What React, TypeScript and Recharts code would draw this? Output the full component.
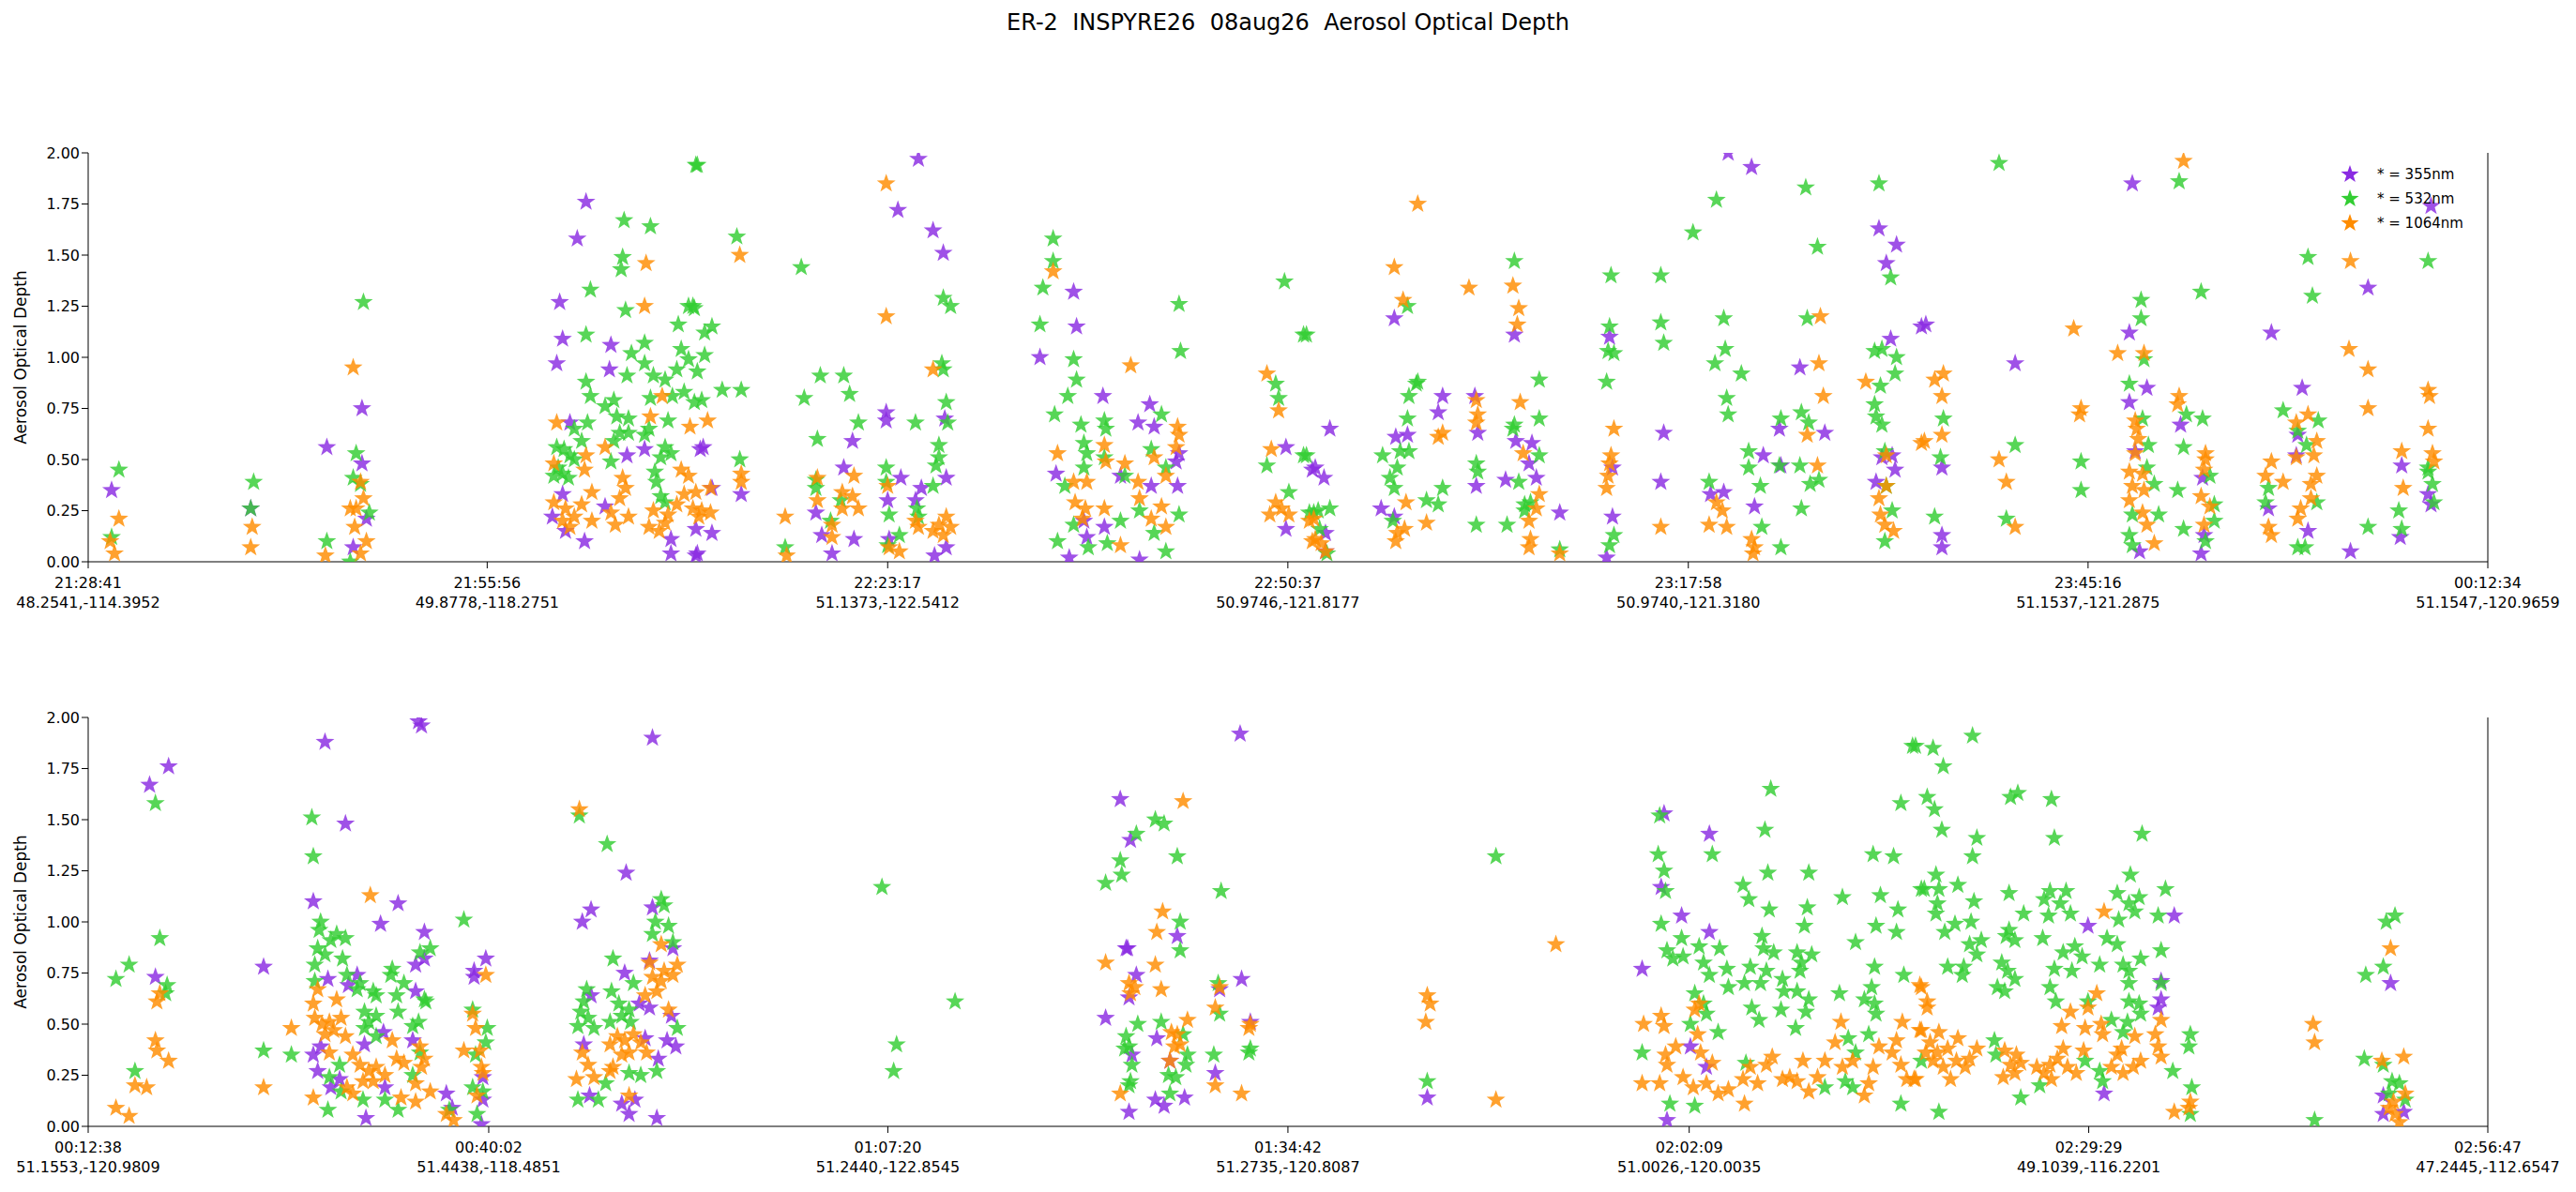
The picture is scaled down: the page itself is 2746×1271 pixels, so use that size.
import { ScatterChart, Scatter, XAxis, YAxis } from 'recharts';

type Pt = [number, number];

// x = minutes since the first tick of the panel, y = aerosol optical depth
const top355: Pt[] = [
  [1.6,0.35],[11.1,0.26],[16.3,0.56],[18.7,0.75],[18.7,0.48],[19,0.21],[18.1,0.07],[32.2,1.27],[33.4,1.58],[34,1.76],[32.4,1.09],[32,0.97],[35.7,1.06],[35.6,0.94],[32.9,0.68],[36.8,0.52],[38,0.55],[32.4,0.33],[31.7,0.22],[32.6,0.15],[33.9,0.1],[35.3,0.27],[39.8,0.11],[39.8,0.04],[41.5,0.16],[41.5,0.03],[41.8,0.55],
  [56.7,1.97],[55.3,1.72],[57.7,1.62],[58.4,1.51],[54.5,0.73],[54.5,0.69],[42,0.56],[52.2,0.59],[51.6,0.46],[44.6,0.33],[42.6,0.36],[42.6,0.14],[41.6,0.04],[49.7,0.24],[50.1,0.13],[50.8,0.04],[52.3,0.11],[54.6,0.3],[55.5,0.41],[56.9,0.36],[56.5,0.3],[58.6,0.41],[58.5,0.7],[57.8,0.03],[58.6,0.07],[54.7,0.11],[67.3,1.32],[67.5,1.15],[65,1.0],[69.3,0.81],[72.5,0.77],[71.7,0.68],[72.8,0.66],[66.1,0.43],[74.5,0.53],[74.3,0.49],[70.5,0.42],[72.6,0.37],[74.4,0.37],[68,0.2],[69.4,0.17],[68.2,0.12],[67,0.02],[71.8,0.01],[81.8,0.56],[81.8,0.16],[83.6,0.45],
  [84.8,0.65],[83.8,0.46],[84.4,0.41],[84.5,0.14],[84.5,0.05],[89.2,1.19],[89.3,0.61],[90.1,0.62],[92.5,0.81],[92.2,0.73],[94.7,0.81],[94.9,0.63],[94.8,0.37],[88.3,0.26],[89.2,0.22],[96.8,0.4],[97.5,0.59],[98.6,0.58],[98.4,0.48],[98.9,0.41],[97.4,1.11],[100.5,0.24],[103.9,1.1],[104.1,0.46],[104.1,0.22],[103.7,0.02],[107.4,0.39],[107.6,0.63],[110.8,0.33],[111.7,0.34],[112,2.0],[113.6,1.93],[113.8,0.27],[114.4,0.52],[115.5,0.65],[115.6,0.47],[116.9,0.95],[118.6,0.63],[122.3,1.63],[122.8,1.46],[123.5,1.55],[123.1,1.09],[123.2,0.52],[122.5,0.51],[123.4,0.45],[122.1,0.39],[125.2,1.15],
  [125.5,1.16],[131.6,0.97],[126.6,0.46],[126.6,0.13],[126.6,0.07],[139.6,1.85],[139.4,1.12],[140.6,0.85],[139.4,0.78],[139.8,0.54],[142.9,0.67],[140.1,0.05],[144.4,0.41],[144.5,0.13],[144.3,0.04],[149.1,1.12],[151.2,0.85],[150.9,0.62],[150.8,0.52],[148.9,0.26],[151.6,0.15],[155.7,1.34],[154.5,0.05],[158,0.47],[157.9,0.12],[159.8,0.33],[160,0.28],[160,1.74],
];
const top532: Pt[] = [
  [2.1,0.45],[1.6,0.12],[11.3,0.39],[11.1,0.26],[18.8,1.27],[18.3,0.53],[18.1,0.41],[18.6,0.38],[19.2,0.24],[16.3,0.1],[17.9,0.0],[41.5,1.94],[36.6,1.67],[38.4,1.64],[36.5,1.49],[36.4,1.43],[34.3,1.33],[36.7,1.23],[34,1.11],[38,1.07],[37.1,1.02],[38,0.97],[40.3,1.16],[41,1.25],[41.3,1.25],[40.5,1.04],[41,0.99],[34,0.88],[34.3,0.81],[36.8,0.91],[35.9,0.79],[35.3,0.76],[36.1,0.71],[36.9,0.7],[38.6,0.91],[39.4,0.89],[40.2,0.94],[39.9,0.81],[40.7,0.83],[41.4,0.78],[38.4,0.8],[39.6,0.69],[33.2,0.65],[34.1,0.68],[36.3,0.63],[36.9,0.63],[38.3,0.65],[38,0.62],[32,0.56],[32.5,0.55],[32.9,0.52],[33.2,0.5],[32.1,0.46],[32.4,0.43],[31.8,0.42],[32.8,0.41],[33.7,0.59],[35.9,0.59],[35.7,0.49],[39.4,0.56],[39.8,0.53],[39.1,0.51],[38.7,0.44],[38.8,0.39],[39.1,0.32],[39.4,0.29],
  [41.6,1.94],[44.3,1.59],[48.7,1.44],[41.4,1.24],[42.6,1.15],[42.1,1.12],[42.1,1.01],[41.6,0.93],[43.3,0.84],[44.6,0.84],[41.9,0.79],[50,0.91],[51.6,0.91],[52,0.82],[48.9,0.8],[52.6,0.68],[49.8,0.6],[44.5,0.5],[49.7,0.4],[49.7,0.36],[47.6,0.07],[50.7,0.2],[51.4,0.3],[54.5,0.46],[54.5,0.39],[54.7,0.23],[54.6,0.08],[55.4,0.13],[56.5,0.68],[58.4,1.29],[58.9,1.25],[58.3,0.97],[58.4,0.94],[58.6,0.78],[58.7,0.68],[58.1,0.57],[58.1,0.51],[57.9,0.47],[57.7,0.37],[56.6,0.26],[56.7,0.22],[65.9,1.58],[65.9,1.47],[65.2,1.34],[65,1.16],[67.3,0.99],[67.5,0.89],[66.9,0.81],[66,0.72],[67.8,0.67],[68,0.58],[68.2,0.53],[68,0.46],[66.7,0.37],[69.4,0.69],[69.5,0.65],[69.4,0.51],[70.8,0.42],[73.3,0.72],[72.6,0.55],[73.6,0.46],[74.5,1.26],[74.6,1.03],[71.8,0.25],[70.5,0.2],[72.8,0.14],[74.5,0.23],[73.6,0.05],[66.2,0.1],[68.3,0.07],[69.6,0.09],[67.3,0.18],[81.7,1.37],[83,1.11],[81.1,0.87],[81.3,0.8],[83,0.52],[80.5,0.47],[82,0.34],[83.4,0.24],
  [83.2,1.11],[83.2,0.52],[84,0.25],[84.8,0.26],[83.7,0.24],[84.1,0.16],[84.6,0.04],[88.4,0.52],[89.1,0.2],[89.4,0.46],[88.9,0.41],[89.2,0.36],[89.6,0.54],[90.2,0.54],[90.1,0.7],[90.2,0.81],[90.7,0.87],[90.8,0.88],[90.1,1.25],[92.5,0.36],[91.4,0.3],[92.2,0.28],[94.8,0.48],[94.9,0.44],[94.8,0.18],[97.4,1.47],[99.1,0.89],[99.1,0.7],[97.4,0.67],[97.3,0.65],[99.1,0.52],[96.9,0.18],[97.7,0.39],[98.1,0.28],[98.5,0.29],[98.1,0.25],[100.5,0.06],[104,1.4],[103.9,1.15],[103.8,1.03],[104.2,1.02],[103.7,0.88],[104.2,0.13],[103.9,0.08],[107.4,1.4],[107.4,1.17],[107.6,1.07],[111.2,1.77],[109.6,1.61],[111.7,1.19],[111.8,1.04],[111.1,0.97],[112.9,0.92],[111.9,0.8],[112,0.72],[110.7,0.39],[113.4,0.54],[113.4,0.46],[114.2,0.37],[114.3,0.17],[115.6,0.07],[115.6,0.7],[115.5,0.47],[116.9,0.47],[117,0.26],[117,0.73],[117.5,0.68],[117.3,1.83],[118.1,1.54],[117.4,1.19],[118.2,0.4],[117.6,0.38],[122.3,1.85],[123.1,1.39],[122,1.03],[122.5,1.04],[123.5,1.0],[123.4,0.92],[122.4,0.86],[122,0.77],[122.1,0.71],[122.5,0.67],[122.7,0.54],[122.8,0.37],[123.2,0.25],[122.7,0.1],
  [130.5,1.95],[142.8,1.86],[140.2,1.28],[140.2,1.19],[144.3,1.32],[151.6,1.49],[151.9,1.3],[159.8,1.47],[139.4,0.87],[140.3,0.7],[140.7,0.57],[140.4,0.99],[143.3,0.72],[144.4,0.7],[143.1,0.56],[140.6,0.46],[141.1,0.38],[142.7,0.35],[139.6,0.23],[141.4,0.23],[139.4,0.13],[139.6,0.08],[143.1,0.16],[144.9,0.42],[145.2,0.28],[145.2,0.2],[144.6,0.1],[126.7,0.7],[126.5,0.51],[126.1,0.22],[131.6,0.57],[131,0.21],[136.1,0.49],[136.1,0.35],[149.9,0.74],[150.9,0.64],[151.5,0.57],[152.3,0.69],[148.9,0.36],[148.7,0.29],[152.2,0.29],[150.9,0.07],[151.4,0.07],[155.7,0.17],[157.8,0.25],[158,0.16],[159.8,0.44],[160.1,0.38],[160.2,0.29],[159.8,0.46],
];
const top1064: Pt[] = [
  [2.1,0.21],[1.5,0.1],[1.8,0.04],[11.2,0.17],[11.1,0.07],[18.1,0.95],[18.6,0.39],[18.8,0.31],[18.3,0.26],[17.9,0.26],[18.2,0.17],[19,0.1],[18.6,0.04],[16.2,0.03],[38.1,1.46],[38,1.25],[32,0.68],[39.2,0.81],[38.4,0.71],[41.1,0.66],[35.3,0.56],[34,0.52],[31.8,0.48],[33.9,0.45],[40.5,0.45],[41,0.42],[36.5,0.41],[36.7,0.36],[36.3,0.31],[31.8,0.29],[32.6,0.26],[33.2,0.22],[32.4,0.2],[32.9,0.17],[33.7,0.28],[34.4,0.34],[34.4,0.2],[35.7,0.24],[36,0.18],[36.9,0.22],[38.6,0.25],[38.3,0.17],[39,0.15],[39.4,0.19],[40.2,0.28],[40.7,0.33],[41.3,0.26],[41.7,0.22],[39.6,0.23],
  [54.5,1.85],[44.5,1.5],[54.5,1.2],[57.7,0.94],[42.3,0.69],[44.6,0.43],[44.6,0.39],[42.5,0.36],[41.5,0.34],[41.9,0.25],[42.5,0.24],[47.6,0.22],[49.8,0.41],[49.8,0.3],[50.8,0.18],[50.8,0.12],[51.5,0.34],[52.2,0.32],[52.3,0.42],[52.6,0.26],[51.5,0.26],[54.6,0.37],[47.7,0.03],[55.4,0.05],[54.7,0.07],[56.7,0.17],[56.5,0.2],[57.7,0.15],[58.1,0.18],[58.6,0.22],[58.9,0.17],[58.4,0.13],[65.9,1.42],[66.2,0.53],[67.3,0.39],[68.2,0.39],[67.4,0.29],[68.1,0.26],[67.9,0.21],[69.4,0.57],[69.5,0.49],[69.4,0.26],[70.8,0.48],[71.7,0.39],[71.8,0.31],[71.2,0.96],[72.8,0.51],[73.6,0.42],[73.3,0.27],[72.6,0.21],[73.6,0.17],[70.5,0.08],[74.4,0.66],[74.5,0.62],[74.3,0.56],[80.5,0.92],[81.3,0.74],[80.8,0.55],[81.1,0.29],[81.5,0.26],[80.7,0.23],[82,0.23],[83.4,0.2],[83.6,0.1],
  [83.7,0.21],[83.8,0.11],[84.5,0.05],[84.2,0.09],[90.8,1.75],[89.2,1.44],[89.8,1.28],[90,0.29],[89.4,0.14],[89.9,0.16],[89.3,0.1],[91.4,0.19],[92.5,0.63],[92.2,0.61],[94.3,1.34],[94.8,0.79],[94.9,0.72],[94.8,0.68],[97.3,1.35],[97.7,1.24],[97.6,1.16],[97.8,0.78],[98,0.53],[99.1,0.33],[98.9,0.26],[98.4,0.2],[98.5,0.11],[98.4,0.07],[100.5,0.04],[104.2,0.65],[104,0.52],[103.9,0.48],[103.8,0.42],[103.7,0.36],[107.4,0.17],[111.2,0.29],[111.6,0.25],[110.7,0.18],[111.9,0.17],[113.6,0.11],[113.8,0.07],[113.7,0.04],[118.3,1.2],[118.2,0.97],[118.5,0.81],[117.4,0.62],[118.1,0.47],[121.4,0.88],[122.8,0.52],[122.8,0.37],[122.3,0.31],[122.4,0.23],[122.7,0.18],[123.3,0.15],[125.2,0.58],
  [143.1,1.96],[154.5,1.47],[126.7,0.92],[126.1,0.89],[126.6,0.81],[126.6,0.62],[125.4,0.59],[130.5,0.5],[131,0.39],[131.6,0.17],[135.6,1.14],[136.1,0.75],[136,0.72],[138.6,1.02],[140.4,1.02],[139.8,0.69],[139.9,0.65],[140,0.6],[139.8,0.53],[139.4,0.44],[140.3,0.43],[139.6,0.37],[140.4,0.35],[139.4,0.3],[140.3,0.24],[140.6,0.18],[141.1,0.09],[142.8,0.81],[142.7,0.77],[144.6,0.53],[144.6,0.5],[144.5,0.45],[144.3,0.32],[144.9,0.27],[144.5,0.18],[154.4,1.04],[155.7,0.94],[155.7,0.75],[159.8,0.84],[159.9,0.81],[159.8,0.65],[160.1,0.53],[160.2,0.49],[158,0.54],[158.1,0.36],[149.1,0.49],[149.9,0.39],[148.7,0.42],[148.9,0.17],[149.1,0.13],[150.8,0.68],[151.6,0.72],[152.2,0.59],[152,0.52],[152.2,0.42],[151.8,0.38],[151.8,0.31],[151.1,0.26],[150.9,0.21],[150.8,0.51],
];

const bot355: Pt[] = [
  [4.2,1.67],[5.5,1.76],[4.6,0.73],[12,0.78],[16.2,1.88],[15.4,1.1],[17.6,1.48],[22.6,1.98],[22.8,1.96],[21.2,1.09],[20,0.99],[23,0.95],[16.4,0.72],[18.4,0.74],[17.8,0.69],[22.4,0.79],[23,0.82],[22.4,0.66],[27.2,0.82],[26.4,0.76],[26.4,0.73],[15.4,0.35],[15.7,0.27],[15.9,0.39],[17.2,0.23],[16.6,0.19],[20.2,0.46],[18.9,0.4],[22.2,0.42],[20.3,0.19],[19,0.04],[24.5,0.16],[24.9,0.09],[27,0.24],[26.9,0.01],[27,0.13],[33.8,1.0],[34.4,1.06],[36.8,1.24],[38.6,1.9],[38.6,1.07],[36.7,0.75],[38.4,0.81],[37.7,0.6],[38.4,0.58],[40,0.87],[39.9,0.54],[39.6,0.42],[40.2,0.39],[34.4,0.64],[33.9,0.4],[34.3,0.15],[36.5,0.11],[37,0.06],[37.4,0.13],[38.9,0.04],[39,0.33],[38.1,0.43],
  [78.8,1.92],[70.6,1.6],[71.3,1.4],[74.5,0.93],[71,0.87],[71.1,0.87],[71.7,0.74],[71.2,0.63],[78.9,0.72],[77.4,0.67],[69.6,0.53],[73.1,0.43],[71.4,0.35],[79.5,0.51],[77.1,0.26],[74,0.32],[73,0.13],[73.6,0.1],[75,0.14],[71.2,0.07],
  [91.6,0.14],[107.8,1.53],[107.6,1.17],[109,1.03],[110.9,1.43],[110.9,0.95],[106.3,0.77],[109.6,0.39],[110.7,0.29],[108,0.03],
  [136.8,0.98],[142.7,1.03],[141.8,0.71],[141.8,0.62],[141.6,0.58],[137.9,0.16],[157.5,0.7],[157,0.15],[157,0.06],[158.4,0.07],
];
const bot532: Pt[] = [
  [1.9,0.72],[2.8,0.79],[4.6,1.58],[4.9,0.92],[5.4,0.69],[5.3,0.65],[3.2,0.27],[12,0.37],[13.9,0.35],[15.3,1.51],[15.4,1.32],[15.9,1.0],[15.8,0.96],[15.7,0.87],[15.5,0.79],[15.5,0.71],[16.2,0.84],[16.6,0.91],[17,0.94],[17.6,0.92],[17.4,0.82],[17.7,0.74],[18.4,0.67],[18.6,0.7],[19.5,0.66],[19.7,0.64],[18.9,0.56],[19.2,0.51],[19.7,0.54],[20.8,0.77],[20.7,0.74],[21.6,0.7],[21.1,0.64],[21.2,0.56],[22.2,0.49],[22.6,0.51],[22.7,0.85],[23.4,0.87],[23,0.62],[23.1,0.61],[18.9,0.48],[19.7,0.44],[16.5,0.24],[17.2,0.3],[17.3,0.17],[18.8,0.13],[20.3,0.13],[21.2,0.08],[16.4,0.08],[22.7,0.36],[22.2,0.25],[24.7,0.08],[25.7,1.01],[26.3,0.57],[27.3,0.48],[27.2,0.41],[26.5,0.35],[26.3,0.19],[27,0.17],[26.6,0.06],[33.6,1.52],[35.5,1.38],[35.9,0.82],[34.1,0.67],[33.9,0.61],[33.7,0.56],[34.2,0.53],[33.5,0.49],[34.6,0.48],[35.8,0.66],[36.3,0.6],[36.5,0.54],[37,0.57],[37.3,0.7],[35.7,0.51],[37.1,0.51],[39.2,1.11],[39.4,1.08],[38.8,1.0],[39.7,0.98],[38.6,0.94],[40,0.9],[40.3,0.48],[33.5,0.13],[34.9,0.13],[35.4,0.21],[37,0.26],[37.8,0.25],[38.9,0.27],
  [54.3,1.17],[55.3,0.4],[55.1,0.27],[59.3,0.61],[70.6,1.3],[70.7,1.23],[69.6,1.19],[71.7,1.43],[73,1.5],[73.6,1.48],[74.5,1.32],[77.5,1.15],[74.7,1.0],[74.7,0.86],[77.3,0.7],[77.4,0.55],[71.8,0.5],[73.4,0.51],[74.9,0.45],[71,0.44],[71.2,0.39],[70.9,0.38],[71.4,0.3],[71.3,0.22],[71.2,0.2],[73.9,0.25],[74.4,0.24],[75.2,0.35],[75.1,0.3],[77,0.35],[74,0.16],[79.5,0.38],[79.4,0.36],
  [96.3,1.32],[91.6,0.22],[107.5,1.52],[107.4,1.33],[107.8,1.25],[107.9,1.15],[107.6,0.99],[109,0.92],[108,0.86],[108.4,0.82],[109.1,0.83],[110.2,0.88],[111.6,0.87],[110.5,0.8],[110.9,0.74],[112.1,0.77],[112.2,0.68],[109.9,0.65],[110.5,0.6],[110.7,0.55],[109.6,0.5],[111.5,0.46],[111.1,1.33],[106.3,0.36],[108.2,0.11],[109.9,0.1],[115.1,1.65],[114.7,1.45],[114.9,1.24],[113.2,1.18],[113.6,1.11],[115,1.06],[114.5,0.93],[114.6,0.87],[115.3,0.85],[113.7,0.78],[114.8,0.76],[113.3,0.7],[114.4,0.7],[115.9,0.72],[116,0.66],[113.8,0.58],[114.3,0.52],[115.8,0.57],[116.8,0.48],[116.9,0.85],[117.9,0.84],[117.2,0.8],[117.1,0.76],[116.9,0.66],[117.7,0.62],[117.5,0.56],[117.7,1.24],[117.6,1.07],[117.4,0.98],[120,1.12],[120.9,0.9],[122.1,1.33],[123.5,1.32],[124,1.58],[124.8,1.86],[122.6,1.13],[123.8,1.06],[122.3,0.98],[123.7,0.95],[122.2,0.78],[124.2,0.74],[122,0.68],[121.5,0.62],[122.2,0.6],[122.3,0.55],[119.8,0.65],[120.4,0.43],[120.9,0.36],[121.8,0.45],[125.4,1.16],[124,0.11],[113.4,0.31],[118.8,0.19],[120.2,0.22],[120.7,0.19],
  [125,1.86],[126.2,1.85],[128.9,1.91],[126.9,1.76],[125.8,1.61],[126.3,1.55],[126.8,1.45],[129.2,1.41],[128.9,1.32],[131.5,1.61],[132,1.63],[134.3,1.6],[134.5,1.41],[140.5,1.43],[126.4,1.23],[125.6,1.16],[126.6,1.16],[127.9,1.18],[126.5,1.09],[126.4,1.04],[129,1.1],[131.4,1.14],[127,0.95],[127.7,0.99],[128.8,1.0],[129.5,0.91],[128.7,0.89],[129.2,0.84],[127.2,0.78],[128.3,0.78],[128.2,0.74],[131.4,0.96],[131.2,0.93],[131.8,0.91],[132.4,1.04],[130.9,0.8],[131.3,0.76],[131.8,0.72],[130.6,0.68],[131.1,0.66],[133.8,1.11],[134.2,1.15],[135.3,1.15],[134.1,1.03],[134.9,1.09],[135.6,1.04],[133.7,0.92],[135.1,0.85],[135.9,0.88],[136.4,0.83],[134.5,0.77],[135.7,0.76],[134.2,0.68],[134.6,0.61],[137.6,0.79],[138.1,0.92],[138.8,0.89],[138.8,1.14],[139.7,1.23],[139.6,1.09],[140.3,1.12],[140,1.05],[138.9,1.01],[141.6,1.03],[142.1,1.16],[141.8,0.86],[140.4,0.82],[139.2,0.79],[139.6,0.76],[139.6,0.7],[139.6,0.61],[140.3,0.6],[140.4,0.55],[138.4,0.52],[139.5,0.51],[139.2,0.46],[136.8,0.61],[143.8,0.45],[143.7,0.39],[143.9,0.19],[143.8,0.06],[142.6,0.27],[130.4,0.42],[130.5,0.35],[132.2,0.14],[133.5,0.2],[125.4,0.32],[126.6,0.07],[136.6,0.32],[137.6,0.27],[137.8,0.22],[141.8,0.7],[152.3,0.03],[157.2,1.0],[157.8,1.03],[157,0.78],[155.8,0.74],[155.7,0.33],[157,0.3],[157.6,0.22],[158.1,0.21],[158.5,0.13],[157.4,0.16],
];
const bot1064: Pt[] = [
  [1.9,0.09],[2.8,0.05],[3.2,0.2],[4,0.19],[4.6,0.42],[4.7,0.37],[5.5,0.32],[4.7,0.61],[4.9,0.65],[12,0.19],[13.9,0.48],[15.4,0.14],[19.3,1.13],[15.7,0.67],[15.4,0.6],[17,0.62],[15.5,0.53],[16,0.5],[16.5,0.51],[17.3,0.53],[16.8,0.47],[16.2,0.45],[17.6,0.44],[16.5,0.36],[18.1,0.35],[18.6,0.3],[19.2,0.27],[19.7,0.29],[20.3,0.25],[18.8,0.22],[19.5,0.22],[17.7,0.19],[18.1,0.16],[20.8,0.42],[21.1,0.33],[21.6,0.31],[21.4,0.14],[22.4,0.21],[22.4,0.12],[23,0.33],[22.8,0.29],[23.4,0.17],[22.7,0.39],[24.5,0.06],[25,0.03],[25.7,0.37],[26.3,0.55],[26.5,0.48],[27.2,0.74],[26.8,0.37],[26.9,0.29],[27,0.26],[26.6,0.15],[33.6,1.55],[33.4,0.23],[33.8,0.36],[34.2,0.3],[34.6,0.24],[35.7,0.4],[36.2,0.44],[36.7,0.42],[37.3,0.45],[37.8,0.41],[36.5,0.35],[37,0.36],[35.9,0.29],[35.7,0.27],[37,0.15],[38.2,0.36],[38.1,0.64],[38.6,0.73],[39.2,0.71],[38.4,0.8],[39.4,0.76],[40,0.74],[40.3,0.79],[39.2,0.89],[38.9,0.66],[39.7,0.57],
  [74.9,1.59],[73.5,1.05],[73.1,0.95],[69.6,0.8],[73,0.79],[71.2,0.7],[71.6,0.68],[71.3,0.65],[73.4,0.67],[77.4,0.68],[77.1,0.58],[75.2,0.52],[74.1,0.46],[74.5,0.45],[74.3,0.39],[74.7,0.4],[74,0.32],[79.4,0.48],[79.5,0.5],[70.6,0.16],[77.1,0.2],[78.9,0.16],
  [91.6,0.64],[91.8,0.6],[91.5,0.51],[96.3,0.13],[100.4,0.89],[106.4,0.5],[107.6,0.54],[107.8,0.49],[106.3,0.21],[107.5,0.21],[107.9,0.35],[108,0.3],[108.6,0.39],[109.9,0.57],[110.2,0.6],[110.1,0.45],[110.3,0.36],[109.1,0.24],[109.8,0.19],[110.7,0.21],[111.1,0.31],[111.5,0.16],[112.2,0.18],[113.3,0.11],[113.2,0.23],[113.7,0.29],[114.2,0.21],[114.8,0.3],[115.2,0.34],[115.9,0.23],[116.9,0.22],[117.3,0.32],[117.7,0.17],[118.3,0.24],[118.8,0.32],[119.5,0.41],[119.9,0.51],[120,0.29],[120.7,0.32],[121.5,0.15],[121.8,0.21],[122.1,0.29],[122.5,0.39],[123.4,0.36],[123.7,0.42],[124.1,0.51],[124,0.3],[124.4,0.23],[124.9,0.23],[125.3,0.69],[125.3,0.47],[116.4,0.24],
  [125.4,0.68],[125.8,0.61],[125.8,0.58],[125.4,0.47],[126.6,0.46],[127.9,0.43],[126,0.41],[125.7,0.36],[126.5,0.36],[127.2,0.38],[126.2,0.32],[126.9,0.29],[127.4,0.23],[127.8,0.32],[128.7,0.33],[129.2,0.38],[128.4,0.29],[125,0.23],[131.1,0.37],[131.9,0.35],[131.5,0.3],[132.2,0.31],[131,0.24],[131.8,0.26],[133.3,0.29],[133.8,0.26],[134.2,0.3],[134.7,0.33],[135.1,0.38],[135.4,0.29],[136,0.26],[134.3,0.23],[135,0.49],[135.6,0.56],[136.6,0.48],[136.8,0.58],[137.4,0.65],[137.9,1.05],[137.7,0.5],[137.8,0.45],[136.5,0.37],[138.8,0.35],[139.1,0.38],[138.4,0.29],[139.2,0.26],[139.9,0.29],[140.4,0.32],[140,0.44],[141.4,0.45],[141.6,0.39],[141.8,0.34],[141.8,0.52],[142.7,0.07],[143.8,0.12],[143.7,0.09],[152.2,0.5],[152.3,0.41],[156.9,0.32],[158.4,0.34],[157.5,0.87],[158.5,0.16],[157.4,0.09],[157.8,0.06],[158.1,0.02],[157.7,0.12],
];

const topTicks = [0, 27.25, 54.6, 81.93, 109.28, 136.58, 163.88];
const topTimes = ['21:28:41', '21:55:56', '22:23:17', '22:50:37', '23:17:58', '23:45:16', '00:12:34'];
const topPlaces = ['48.2541,-114.3952', '49.8778,-118.2751', '51.1373,-122.5412', '50.9746,-121.8177', '50.9740,-121.3180', '51.1537,-121.2875', '51.1547,-120.9659'];
const botTicks = [0, 27.4, 54.7, 82.07, 109.52, 136.85, 164.15];
const botTimes = ['00:12:38', '00:40:02', '01:07:20', '01:34:42', '02:02:09', '02:29:29', '02:56:47'];
const botPlaces = ['51.1553,-120.9809', '51.4438,-118.4851', '51.2440,-122.8545', '51.2735,-120.8087', '51.0026,-120.0035', '49.1039,-116.2201', '47.2445,-112.6547'];
const yTicks = [0, 0.25, 0.5, 0.75, 1.0, 1.25, 1.5, 1.75, 2.0];

const wavelengths = ['355nm', '532nm', '1064nm'];
const colors = ['#8a2be2', '#32cd32', '#ff8c00'];
const FONT = '"DejaVu Sans", sans-serif';

const toRows = (pts: Pt[]) => pts.map(([x, y]) => ({ x, y }));

// matplotlib-style 5 point star
function starPoints(cx: number, cy: number, r: number) {
  return Array.from({ length: 10 }, (_, k) => {
    const rr = k % 2 === 0 ? r : r * 0.4;
    const a = (Math.PI / 5) * k - Math.PI / 2;
    return `${cx + rr * Math.cos(a)},${cy + rr * Math.sin(a)}`;
  }).join(' ');
}

function makeStar(color: string) {
  return (props: any) => <polygon points={starPoints(props.cx, props.cy, 10.5)} fill={color} fillOpacity={0.82} />;
}

function makeTick(ticks: number[], times: string[], places: string[]) {
  return (props: any) => {
    const i = ticks.indexOf(props.payload.value);
    return (
      <text x={props.x} y={props.y} textAnchor="middle" fontSize={16} fontFamily={FONT} fill="#000">
        <tspan x={props.x} dy={19}>{times[i]}</tspan>
        <tspan x={props.x} dy={21}>{places[i]}</tspan>
      </text>
    );
  };
}

function Panel({ series, ticks, times, places, top, domainMax }: { series: Pt[][]; ticks: number[]; times: string[]; places: string[]; top: number; domainMax: number }) {
  return (
    <div style={{ position: 'absolute', left: 0, top }}>
      <ScatterChart width={2746} height={top === 0 ? 668 : 570} margin={{ top: top === 0 ? 163 : 65, right: 93, bottom: 0, left: 0 }}>
        <XAxis type="number" dataKey="x" domain={[0, domainMax]} ticks={ticks} interval={0} allowDataOverflow
          height={69} stroke="#000" tickSize={7} tick={makeTick(ticks, times, places)} />
        <XAxis xAxisId="frame" orientation="top" type="number" domain={[0, domainMax]} tick={false} tickLine={false} height={0} stroke="#000" />
        <YAxis type="number" dataKey="y" domain={[0, 2]} ticks={yTicks} interval={0} allowDataOverflow width={94}
          stroke="#000" tickSize={7} tickFormatter={(v: number) => v.toFixed(2)}
          tick={{ fontSize: 16, fill: '#000', fontFamily: FONT }} />
        <YAxis yAxisId="frame" orientation="right" type="number" domain={[0, 2]} tick={false} tickLine={false} width={1} stroke="#000" />
        {series.map((pts, i) => (
          <Scatter key={wavelengths[i]} name={wavelengths[i]} data={toRows(pts)} shape={makeStar(colors[i])}
            fill={colors[i]} isAnimationActive={false} />
        ))}
      </ScatterChart>
      <div style={{ position: 'absolute', left: 8, top: top === 0 ? 381 : 983 - top, transform: 'translate(-50%,-50%) rotate(-90deg)', marginLeft: 14,
        fontFamily: FONT, fontSize: 17, whiteSpace: 'nowrap' }}>Aerosol Optical Depth</div>
    </div>
  );
}

export default function App() {
  return (
    <div style={{ position: 'absolute', left: 0, top: 0, width: 2746, height: 1271, background: '#fff', overflow: 'hidden' }}>
      <div style={{ position: 'absolute', top: 10, width: 2746, textAlign: 'center', fontFamily: FONT, fontSize: 24 }}>
        ER-2&nbsp;&nbsp;INSPYRE26&nbsp;&nbsp;08aug26&nbsp;&nbsp;Aerosol Optical Depth
      </div>
      <Panel series={[top355, top532, top1064]} ticks={topTicks} times={topTimes} places={topPlaces} top={0} domainMax={163.88} />
      <Panel series={[bot355, bot532, bot1064]} ticks={botTicks} times={botTimes} places={botPlaces} top={700} domainMax={164.15} />
      <div style={{ position: 'absolute', left: 2494, top: 173, fontFamily: FONT, fontSize: 15 }}>
        {wavelengths.map((w, i) => (
          <div key={w} style={{ display: 'flex', alignItems: 'center', height: 26 }}>
            <svg width={22} height={22}><polygon points={starPoints(11, 11, 10)} fill={colors[i]} /></svg>
            <span style={{ marginLeft: 18 }}>* = {w}</span>
          </div>
        ))}
      </div>
    </div>
  );
}
